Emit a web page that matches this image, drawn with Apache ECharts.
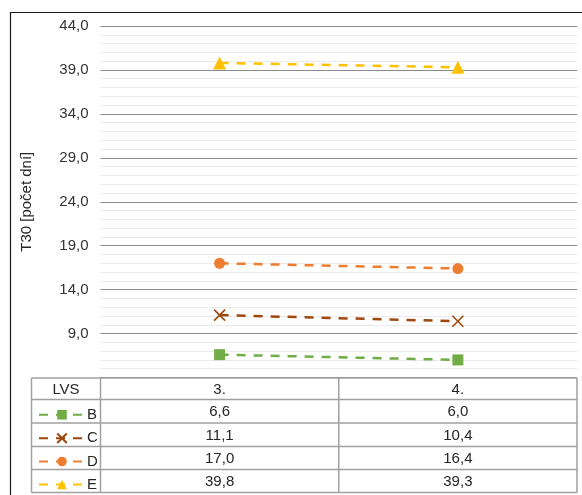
<!DOCTYPE html>
<html><head><meta charset="utf-8">
<script src="https://cdn.jsdelivr.net/npm/echarts@6/dist/echarts.min.js"></script>
<style>html,body{margin:0;padding:0;background:#fff}#c{width:582px;height:495px}</style>
</head><body><div id="c"></div>
<script>
const categories = ['3.', '4.'];
const seriesNames = ['B', 'C', 'D', 'E'];
const valuesB = [6.6, 6.0];
const valuesC = [11.1, 10.4];
const valuesD = [17.0, 16.4];
const valuesE = [39.8, 39.3];
const tableHeader = 'LVS';
const yAxisTitle = 'T30 [počet dní]';
const yMin = 4, yMax = 44, yMajor = 5, yMinor = 1;

const allValues = [valuesB, valuesC, valuesD, valuesE];
const colors = ['#70AD47', '#9E480E', '#ED7D31', '#FFC000'];
const symbols = ['rect', 'path://M0,0L10,10M10,0L0,10', 'circle', 'triangle'];
const fmt = v => v.toFixed(1).replace('.', ',');
const font = '"Liberation Sans", Arial, sans-serif';

// table layout (pixels)
const rowLines = [378, 399.5, 423, 446.5, 469.5, 492.5];
const tableLeft = 31.5, gridLeft = 100.5, gridRight = 577;

const chart = echarts.init(document.getElementById('c'), null, {renderer: 'canvas'});

const series = seriesNames.map((n, i) => ({
  name: n, type: 'line', data: allValues[i],
  symbol: symbols[i], symbolSize: i === 3 ? 13 : 11,
  lineStyle: {color: colors[i], width: 2.5, type: [9, 8]},
  itemStyle: i === 1 ? {color: 'rgba(0,0,0,0)', borderColor: colors[i], borderWidth: 1.6}
                     : {color: colors[i], borderWidth: 0},
  emphasis: {disabled: true}, z: 5
}));

const legends = seriesNames.map((n, i) => ({
  data: [n], orient: 'horizontal', left: 33,
  top: (rowLines[i + 1] + rowLines[i + 2]) / 2 - 9,
  itemWidth: 46, itemHeight: 12, itemGap: 0, selectedMode: false,
  textStyle: {fontFamily: font, fontSize: 15, color: '#262626', padding: [0, 0, 0, -3]}
}));

const gridColors = [];
for (let k = 0; k < yMajor / yMinor; k++) gridColors.push(k === 0 ? '#8c8c8c' : '#ebebeb');

chart.setOption({
  animation: false,
  grid: {left: gridLeft, right: 582 - gridRight, top: 26, bottom: 495 - 377.5, containLabel: false},
  xAxis: {type: 'category', data: categories, boundaryGap: true,
    axisLine: {show: false}, axisTick: {show: false}, axisLabel: {show: false}, splitLine: {show: false}},
  yAxis: {type: 'value', min: yMin, max: yMax, interval: yMinor,
    name: yAxisTitle, nameLocation: 'middle', nameGap: 66,
    nameTextStyle: {fontFamily: font, fontSize: 15, color: '#262626'},
    axisLine: {show: false}, axisTick: {show: false},
    axisLabel: {fontFamily: font, fontSize: 15, color: '#333', margin: 12,
      formatter: v => (v === yMin || Math.round(v - yMin) % yMajor !== 0) ? '' : fmt(v)},
    splitLine: {lineStyle: {color: gridColors, width: 1}}
  },
  legend: legends,
  series: series
});

// build data table
const g = [];
g.push({type: 'rect', shape: {x: 10.5, y: 12.5, width: 600, height: 600}, style: {fill: 'none', stroke: '#1a1a1a', lineWidth: 1.2}, z: 100, silent: true});
const lineStyle = {stroke: '#a0a0a0', lineWidth: 1.5};
rowLines.forEach(y => g.push({type: 'line', shape: {x1: tableLeft, y1: y, x2: gridRight, y2: y}, style: lineStyle, z: 50}));
const xs = categories.map(c => chart.convertToPixel({xAxisIndex: 0}, c));
const colLines = [tableLeft, gridLeft, (xs[0] + xs[1]) / 2, gridRight];
colLines.forEach(x => g.push({type: 'line', shape: {x1: x, y1: rowLines[0], x2: x, y2: rowLines[rowLines.length - 1]}, style: lineStyle, z: 50}));
const cellText = (txt, x, r) => ({type: 'text', x: x, y: (rowLines[r] + rowLines[r + 1]) / 2 + 1,
  style: {text: txt, fontFamily: font, fontSize: 15, fill: '#262626', align: 'center', verticalAlign: 'middle'}, z: 60});
g.push(cellText(tableHeader, (tableLeft + gridLeft) / 2, 0));
categories.forEach((c, j) => g.push(cellText(c, xs[j], 0)));
allValues.forEach((vals, i) => vals.forEach((v, j) => g.push(cellText(fmt(v), xs[j], i + 1))));
chart.setOption({graphic: g});
</script></body></html>
